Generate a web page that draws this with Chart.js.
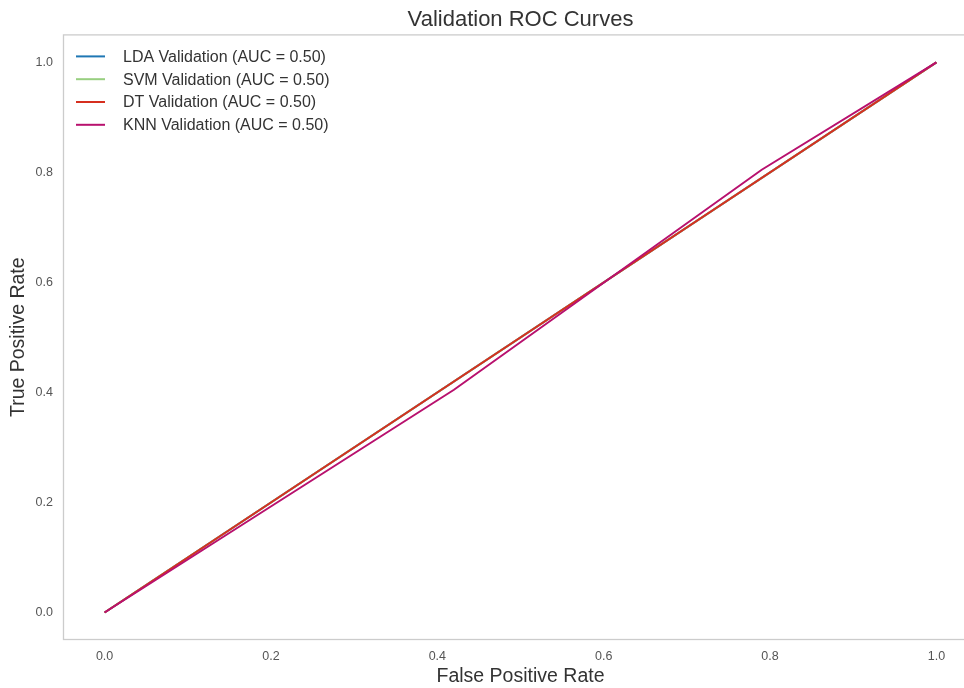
<!DOCTYPE html>
<html>
<head>
<meta charset="utf-8">
<script src="https://cdn.jsdelivr.net/npm/chart.js@4"></script>
<style>
  html, body { margin: 0; padding: 0; background: #fff; overflow: hidden; }
  #wrap { width: 964px; height: 688px; overflow: hidden; }
</style>
</head>
<body>
<!-- the plot runs past the right edge of the picture, so the canvas is a bit wider and clipped -->
<div id="wrap"><canvas id="roc" width="978" height="688"></canvas></div>
<script>
// ROC points
const labels = ["LDA Validation (AUC = 0.50)", "SVM Validation (AUC = 0.50)", "DT Validation (AUC = 0.50)", "KNN Validation (AUC = 0.50)"];
const ldaFpr = [0, 1];
const ldaTpr = [0, 1];
const svmFpr = [0, 1];
const svmTpr = [0, 1];
const dtFpr = [0, 1];
const dtTpr = [0, 1];
const knnFpr = [0, 0.42, 0.79, 1];
const knnTpr = [0, 0.405, 0.805, 1];
const tickVals = [0, 0.2, 0.4, 0.6, 0.8, 1.0];
const colors = ["#1f77b4", "#98cf80", "#d62f1f", "#b8116e"];

const FONT = "'Liberation Sans', Arial, sans-serif";
const pts = (xs, ys) => xs.map((x, i) => ({ x: x, y: ys[i] }));

// plot frame + legend inside the plot
const framePlugin = {
  id: "frame",
  afterDraw(chart) {
    const ctx = chart.ctx, a = chart.chartArea;
    ctx.save();
    ctx.strokeStyle = "#cccccc";
    ctx.lineWidth = 1.3;
    ctx.strokeRect(a.left + 0.5, a.top + 0.5, a.right - a.left - 1, a.bottom - a.top - 1);
    ctx.font = "16px " + FONT;
    ctx.textBaseline = "middle";
    chart.data.datasets.forEach((ds, i) => {
      const y = a.top + 22 + i * 22.8;
      ctx.strokeStyle = ds.borderColor;
      ctx.lineWidth = 2;
      ctx.beginPath();
      ctx.moveTo(a.left + 13, y);
      ctx.lineTo(a.left + 42, y);
      ctx.stroke();
      ctx.fillStyle = "#333";
      ctx.fillText(ds.label, a.left + 60, y + 1);
    });
    ctx.restore();
  }
};

new Chart(document.getElementById("roc"), {
  type: "line",
  data: {
    datasets: [
      { label: labels[0], data: pts(ldaFpr, ldaTpr), borderColor: colors[0], order: 4 },
      { label: labels[1], data: pts(svmFpr, svmTpr), borderColor: colors[1], order: 3 },
      { label: labels[2], data: pts(dtFpr, dtTpr), borderColor: colors[2], order: 2 },
      { label: labels[3], data: pts(knnFpr, knnTpr), borderColor: colors[3], order: 1 }
    ]
  },
  options: {
    responsive: false,
    animation: false,
    elements: {
      point: { radius: 0 },
      line: { borderWidth: 2, tension: 0 }
    },
    layout: { padding: 0 },
    plugins: {
      legend: { display: false },
      tooltip: { enabled: false },
      title: {
        display: true,
        fullSize: false,
        text: "Validation ROC Curves",
        color: "#333",
        font: { family: FONT, size: 22, weight: "normal" },
        padding: { top: 7, bottom: 1 }
      }
    },
    scales: {
      x: {
        type: "linear",
        min: -0.05,
        max: 1.05,
        afterBuildTicks: s => { s.ticks = tickVals.map(v => ({ value: v })); },
        afterFit: s => { s.height = 48; },
        grid: { display: false, drawTicks: false },
        border: { display: false },
        ticks: {
          color: "#555",
          padding: 9,
          font: { family: FONT, size: 12.5 },
          callback: v => v.toFixed(1)
        },
        title: {
          display: true,
          text: "False Positive Rate",
          color: "#333",
          padding: { top: 0, bottom: 0 },
          font: { family: FONT, size: 19.5 }
        }
      },
      y: {
        type: "linear",
        min: -0.05,
        max: 1.051,
        afterBuildTicks: s => { s.ticks = tickVals.map(v => ({ value: v })); },
        afterFit: s => { s.width = 63; },
        grid: { display: false, drawTicks: false },
        border: { display: false },
        ticks: {
          color: "#555",
          padding: 10,
          font: { family: FONT, size: 12.5 },
          callback: v => v.toFixed(1)
        },
        title: {
          display: true,
          text: "True Positive Rate",
          color: "#333",
          padding: { top: 7, bottom: 0 },
          font: { family: FONT, size: 19.5 }
        }
      }
    }
  },
  plugins: [framePlugin]
});
</script>
</body>
</html>
